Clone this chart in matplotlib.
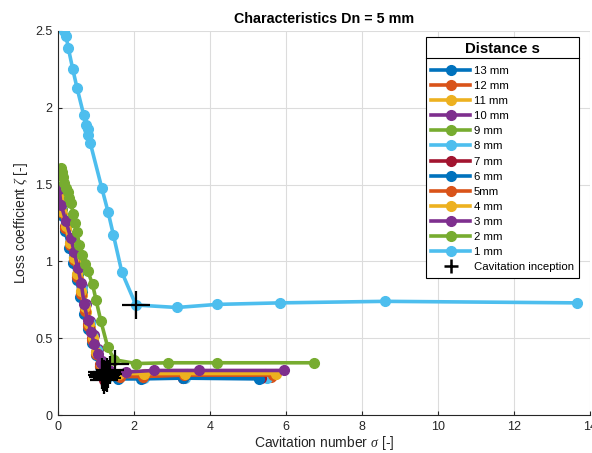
import matplotlib
matplotlib.use('Agg')
import matplotlib.pyplot as plt
from matplotlib.lines import Line2D
from matplotlib.ticker import FuncFormatter

plt.rcParams['font.family'] = ['Liberation Sans', 'DejaVu Sans']
plt.rcParams['mathtext.fontset'] = 'custom'
plt.rcParams['mathtext.it'] = 'Liberation Serif:italic'

# series labels, MATLAB default colour order
labels = ['13 mm', '12 mm', '11 mm', '10 mm', '9 mm', '8 mm', '7 mm',
          '6 mm', '5mm', '4 mm', '3 mm', '2 mm', '1 mm']
colors = ['#0072BD', '#D95319', '#EDB120', '#7E2F8E', '#77AC30', '#4DBEEE',
          '#A2142F', '#0072BD', '#D95319', '#EDB120', '#7E2F8E', '#77AC30',
          '#4DBEEE']

# cavitation number sigma / loss coefficient zeta per distance s
x_13 = [0.04, 0.09, 0.20, 0.33, 0.43, 0.52, 0.62, 0.72, 0.82, 0.92, 1.02, 1.12, 1.22, 1.58, 2.20, 3.28, 5.30]
y_13 = [1.44, 1.35, 1.24, 1.13, 1.03, 0.92, 0.80, 0.69, 0.59, 0.50, 0.42, 0.34, 0.28, 0.25, 0.24, 0.24, 0.24]
x_12 = [0.03, 0.08, 0.19, 0.31, 0.41, 0.50, 0.60, 0.70, 0.80, 0.90, 1.00, 1.10, 1.18, 1.55, 2.22, 3.30, 5.60]
y_12 = [1.42, 1.33, 1.23, 1.12, 1.02, 0.91, 0.80, 0.69, 0.59, 0.50, 0.41, 0.33, 0.26, 0.25, 0.25, 0.25, 0.25]
x_11 = [0.05, 0.10, 0.21, 0.33, 0.44, 0.53, 0.63, 0.73, 0.83, 0.93, 1.03, 1.14, 1.25, 1.60, 2.25, 3.35, 5.70]
y_11 = [1.40, 1.31, 1.21, 1.10, 1.00, 0.89, 0.78, 0.67, 0.57, 0.48, 0.40, 0.32, 0.27, 0.26, 0.26, 0.26, 0.265]
x_10 = [0.04, 0.09, 0.21, 0.34, 0.44, 0.53, 0.63, 0.73, 0.84, 0.94, 1.04, 1.15, 1.30, 1.65, 2.30, 3.40, 5.45]
y_10 = [1.46, 1.37, 1.26, 1.15, 1.05, 0.95, 0.84, 0.72, 0.61, 0.52, 0.43, 0.35, 0.28, 0.27, 0.27, 0.27, 0.27]
x_9 = [0.05, 0.10, 0.21, 0.33, 0.43, 0.52, 0.62, 0.72, 0.82, 0.92, 1.02, 1.12, 1.17, 1.55, 2.20, 3.30, 5.40]
y_9 = [1.43, 1.34, 1.24, 1.13, 1.03, 0.93, 0.82, 0.71, 0.60, 0.51, 0.42, 0.34, 0.28, 0.26, 0.26, 0.26, 0.26]
x_8 = [0.04, 0.09, 0.20, 0.33, 0.43, 0.52, 0.62, 0.72, 0.83, 0.93, 1.03, 1.14, 1.28, 1.60, 2.25, 3.35, 5.50]
y_8 = [1.45, 1.36, 1.25, 1.14, 1.04, 0.94, 0.83, 0.71, 0.60, 0.51, 0.42, 0.34, 0.24, 0.24, 0.24, 0.24, 0.24]
x_7 = [0.03, 0.08, 0.19, 0.32, 0.42, 0.51, 0.61, 0.71, 0.81, 0.91, 1.01, 1.11, 1.20, 1.57, 2.20, 3.30, 5.35]
y_7 = [1.41, 1.32, 1.22, 1.11, 1.01, 0.90, 0.79, 0.68, 0.58, 0.49, 0.40, 0.32, 0.23, 0.24, 0.24, 0.24, 0.24]
x_6 = [0.03, 0.08, 0.18, 0.30, 0.40, 0.49, 0.59, 0.69, 0.79, 0.89, 0.99, 1.10, 1.24, 1.58, 2.18, 3.28, 5.29]
y_6 = [1.39, 1.30, 1.20, 1.09, 0.99, 0.88, 0.77, 0.66, 0.56, 0.47, 0.39, 0.31, 0.25, 0.235, 0.235, 0.24, 0.235]
x_5 = [0.03, 0.08, 0.19, 0.31, 0.41, 0.50, 0.60, 0.70, 0.80, 0.90, 1.00, 1.11, 1.32, 1.62, 2.23, 3.32, 5.65]
y_5 = [1.41, 1.32, 1.22, 1.11, 1.01, 0.90, 0.79, 0.68, 0.58, 0.49, 0.40, 0.32, 0.27, 0.25, 0.25, 0.26, 0.26]
x_4 = [0.04, 0.09, 0.20, 0.32, 0.42, 0.51, 0.61, 0.71, 0.81, 0.91, 1.01, 1.12, 1.17, 1.60, 2.25, 3.35, 5.74]
y_4 = [1.42, 1.33, 1.23, 1.12, 1.02, 0.92, 0.81, 0.70, 0.59, 0.50, 0.41, 0.33, 0.28, 0.27, 0.27, 0.27, 0.27]
x_3 = [0.03, 0.08, 0.21, 0.34, 0.43, 0.52, 0.61, 0.69, 0.78, 0.87, 0.96, 1.04, 1.12, 1.21, 1.35, 1.79, 2.52, 3.70, 5.94]
y_3 = [1.47, 1.37, 1.26, 1.15, 1.06, 0.96, 0.86, 0.72, 0.62, 0.54, 0.46, 0.40, 0.34, 0.30, 0.29, 0.28, 0.29, 0.29, 0.29]
x_2 = [0.08, 0.10, 0.13, 0.16, 0.20, 0.25, 0.30, 0.34, 0.40, 0.45, 0.50, 0.56, 0.62, 0.70, 0.78, 0.91, 1.00, 1.13, 1.31, 1.48, 2.05, 2.89, 4.19, 6.74]
y_2 = [1.61, 1.58, 1.55, 1.51, 1.48, 1.45, 1.41, 1.38, 1.31, 1.25, 1.19, 1.11, 1.04, 0.98, 0.94, 0.85, 0.75, 0.61, 0.44, 0.36, 0.335, 0.34, 0.34, 0.34]
x_1 = [0.17, 0.21, 0.27, 0.39, 0.50, 0.68, 0.74, 0.78, 0.80, 0.85, 1.15, 1.32, 1.46, 1.68, 2.05, 3.13, 4.18, 5.84, 8.60, 13.66]
y_1 = [2.50, 2.47, 2.39, 2.25, 2.13, 1.95, 1.89, 1.86, 1.82, 1.77, 1.48, 1.32, 1.17, 0.93, 0.716, 0.70, 0.72, 0.73, 0.74, 0.73]

# cavitation inception points (13 mm ... 1 mm)
inc_x = [1.22, 1.18, 1.25, 1.30, 1.15, 1.28, 1.20, 1.24, 1.32, 1.17, 1.38, 1.50, 2.05]
inc_y = [0.27, 0.25, 0.26, 0.28, 0.26, 0.24, 0.23, 0.25, 0.27, 0.28, 0.29, 0.335, 0.716]

xs = [x_13, x_12, x_11, x_10, x_9, x_8, x_7, x_6, x_5, x_4, x_3, x_2, x_1]
ys = [y_13, y_12, y_11, y_10, y_9, y_8, y_7, y_6, y_5, y_4, y_3, y_2, y_1]

fig = plt.figure(figsize=(5.92, 4.53), dpi=100)
ax = fig.add_axes([58/592, 38/453, 532/592, 384/453])

for x, y, c, lab in zip(xs, ys, colors, labels):
    ax.plot(x, y, '-o', color=c, lw=2.6, ms=7, label=lab)
ax.plot(inc_x, inc_y, '+', color='k', ms=20, mew=1.6, label='Cavitation inception')

ax.set_xlim(0, 14)
ax.set_ylim(0, 2.5)
ax.set_xticks(range(0, 15, 2))
ax.set_yticks([0, 0.5, 1, 1.5, 2, 2.5])
ax.yaxis.set_major_formatter(FuncFormatter(lambda v, p: '%g' % v))
ax.grid(True, color='#dcdcdc', lw=0.8)
ax.set_axisbelow(True)
for s in ['top', 'right']:
    ax.spines[s].set_visible(False)
for s in ['left', 'bottom']:
    ax.spines[s].set_color('#262626')
ax.tick_params(direction='in', length=3, labelsize=9, colors='#262626', pad=4)

ax.set_title('Characteristics Dn = 5 mm', fontsize=10.3, fontweight='bold', pad=6)
ax.set_xlabel(r'Cavitation number $\sigma$ [-]', fontsize=10, color='#262626', labelpad=1)
ax.set_ylabel(r'Loss coefficient $\zeta$ [-]', fontsize=10, color='#262626', labelpad=4)

leg = ax.legend(loc='upper right', bbox_to_anchor=(579/592, 416/453),
                bbox_transform=fig.transFigure, borderaxespad=0,
                fontsize=8.2, title='Distance s', handlelength=3.4,
                labelspacing=0.45, handletextpad=0.35, fancybox=False,
                framealpha=1, edgecolor='k', borderpad=0.45)
leg.get_title().set_fontweight('bold')
leg.get_title().set_fontsize(10.8)
leg.get_frame().set_linewidth(0.8)
leg.legend_handles[-1].set_markersize(10)
leg.legend_handles[-1].set_markeredgewidth(1.8)
leg._legend_box.sep = 7

# separator line under the legend title
fig.canvas.draw()
fb = leg.get_frame().get_window_extent()
tb = leg.get_title().get_window_extent()
yline = (tb.y0 - 2) / fig.bbox.height
fig.add_artist(Line2D([fb.x0 / fig.bbox.width, fb.x1 / fig.bbox.width], [yline, yline],
                      color='k', lw=0.8))

fig.savefig('out.png', dpi=100)
